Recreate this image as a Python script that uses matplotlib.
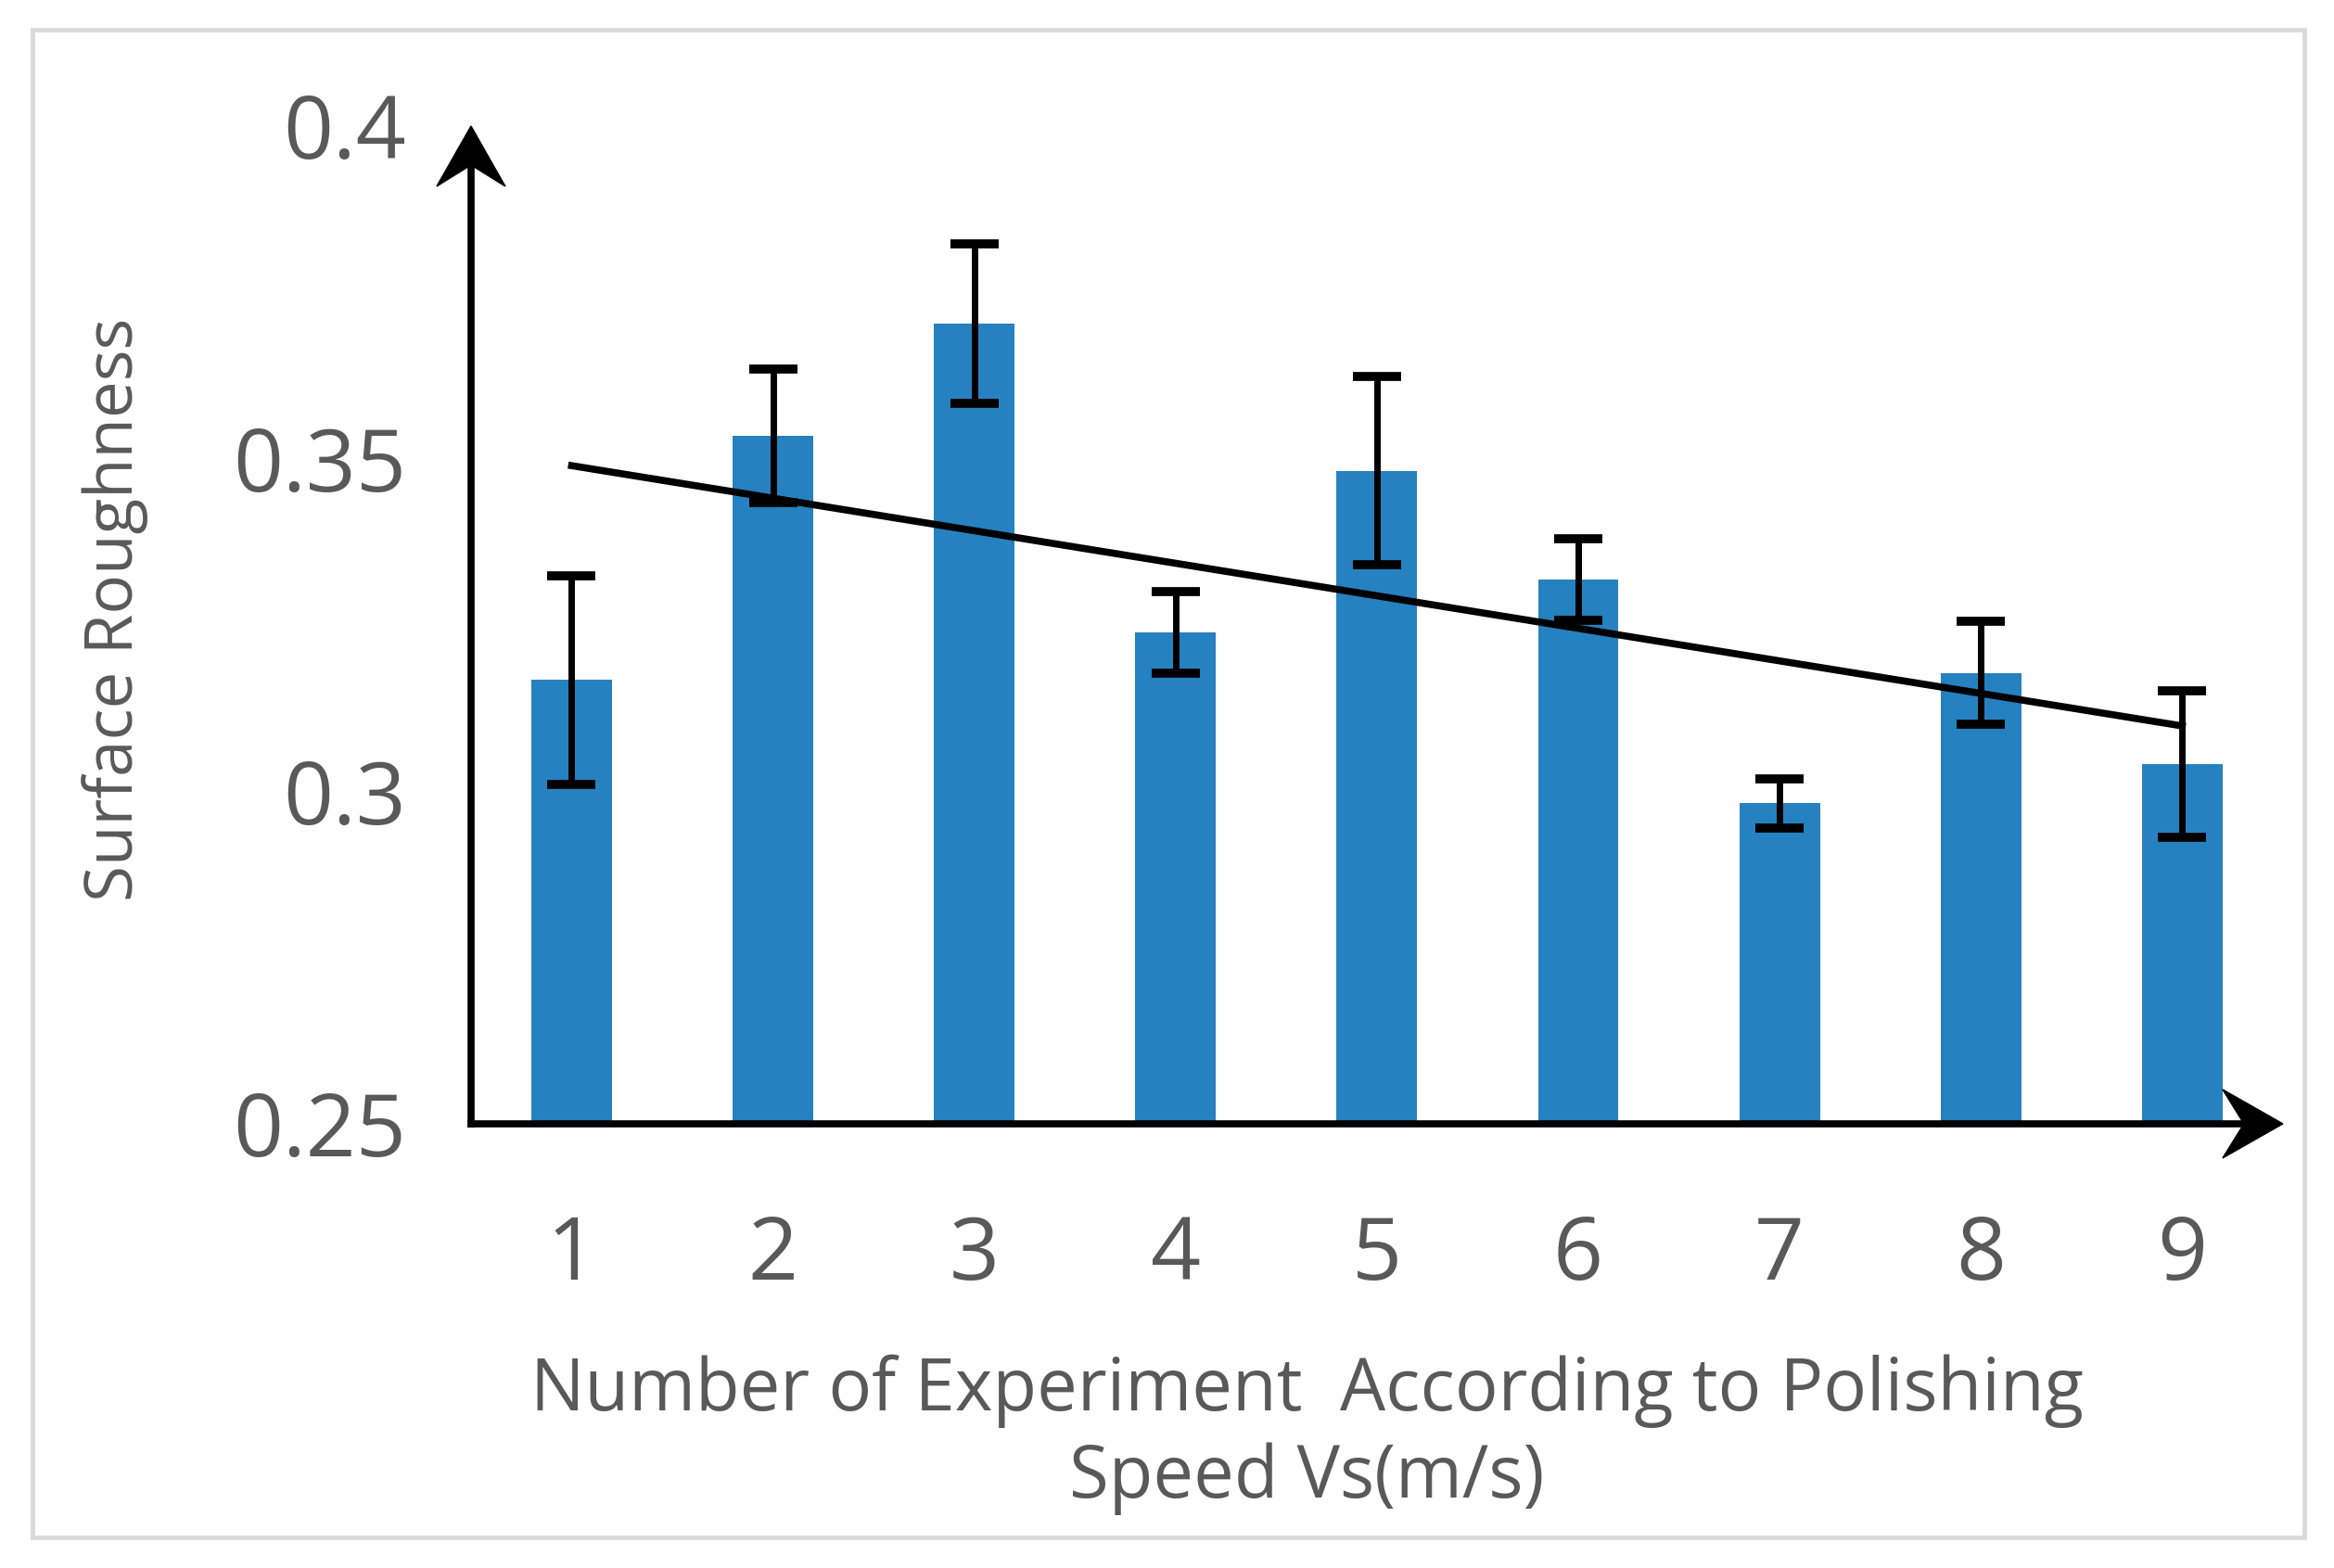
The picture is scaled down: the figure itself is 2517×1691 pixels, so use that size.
import numpy as np
import matplotlib
matplotlib.use("Agg")
import matplotlib.pyplot as plt
from matplotlib.patches import Polygon, Rectangle

plt.rcParams['font.family'] = ['Open Sans', 'DejaVu Sans']

experiments = [1, 2, 3, 4, 5, 6, 7, 8, 9]
roughness = [0.3167, 0.3534, 0.3703, 0.3239, 0.3482, 0.3318, 0.2982, 0.3178, 0.3041]
errors = [0.0157, 0.0100, 0.0120, 0.0061, 0.0141, 0.0061, 0.0037, 0.0077, 0.0110]
y_ticks = [0.25, 0.3, 0.35, 0.4]
y_tick_labels = ["0.25", "0.3", "0.35", "0.4"]

text_color = "#595959"
bar_color = "#2681C0"

fig = plt.figure(figsize=(25.17, 16.91), dpi=100)
ax = fig.add_axes([0.2018, 0.2833, 0.9781 - 0.2018, 0.9196 - 0.2833])

ax.bar(experiments, roughness, width=0.4, color=bar_color, zorder=2)
ax.errorbar(experiments, roughness, yerr=errors, fmt="none", ecolor="black",
            elinewidth=5, capsize=19, capthick=7, zorder=3)

# linear trend line
k, b = np.polyfit(experiments, roughness, 1)
xs = np.array([experiments[0], experiments[-1]])
ax.plot(xs, k * xs + b, color="black", lw=5.5, zorder=4)

ax.set_xlim(0.5, 9.5)
ax.set_ylim(0.25, 0.4)
ax.set_xticks(experiments)
ax.set_xticklabels([str(e) for e in experiments])
ax.set_yticks(y_ticks)
ax.set_yticklabels(y_tick_labels)
ax.tick_params(length=0, labelsize=68, colors=text_color)
ax.tick_params(axis="x", pad=70)
ax.tick_params(axis="y", pad=50)
for s in ax.spines.values():
    s.set_visible(False)

# axis lines with notched arrow heads
ax.plot([0, 0], [0, 0.97], transform=ax.transAxes, color="black", lw=5.5,
        clip_on=False, zorder=5)
ax.plot([0, 0.98], [0, 0], transform=ax.transAxes, color="black", lw=5.5,
        clip_on=False, zorder=5)
L, W, N = 0.65, 0.37, 0.42
up = [(0, 0), (-W, -L), (0, -N), (W, -L)]
right = [(0, 0), (-L, W), (-N, 0), (-L, -W)]
for pts, tip_ax in [(up, (0, 1)), (right, (1, 0))]:
    tip = ax.transAxes.transform(tip_ax)
    pix = [(tip[0] + px * 100, tip[1] + py * 100) for px, py in pts]
    fig.patches.append(Polygon(fig.transFigure.inverted().transform(pix),
                               closed=True, facecolor="black", edgecolor="black",
                               transform=fig.transFigure, zorder=6))

ax.set_ylabel("Surface Roughness", fontsize=51, color=text_color)
ax.yaxis.set_label_coords(-0.178, 0.515)

fig.text(1409 / 2517, 1 - 1500 / 1691, "Number of Experiment  According to Polishing",
         fontsize=56, color=text_color, ha="center", va="center")
fig.text(1409 / 2517, 1 - 1594 / 1691, "Speed Vs(m/s)",
         fontsize=56, color=text_color, ha="center", va="center")

fig.patches.append(Rectangle((35 / 2517, 1 - 1658 / 1691), (2485 - 35) / 2517,
                             (1658 - 32) / 1691, transform=fig.transFigure,
                             fill=False, edgecolor="#D9D9D9", lw=3.5))

fig.savefig("out.png", dpi=100)
